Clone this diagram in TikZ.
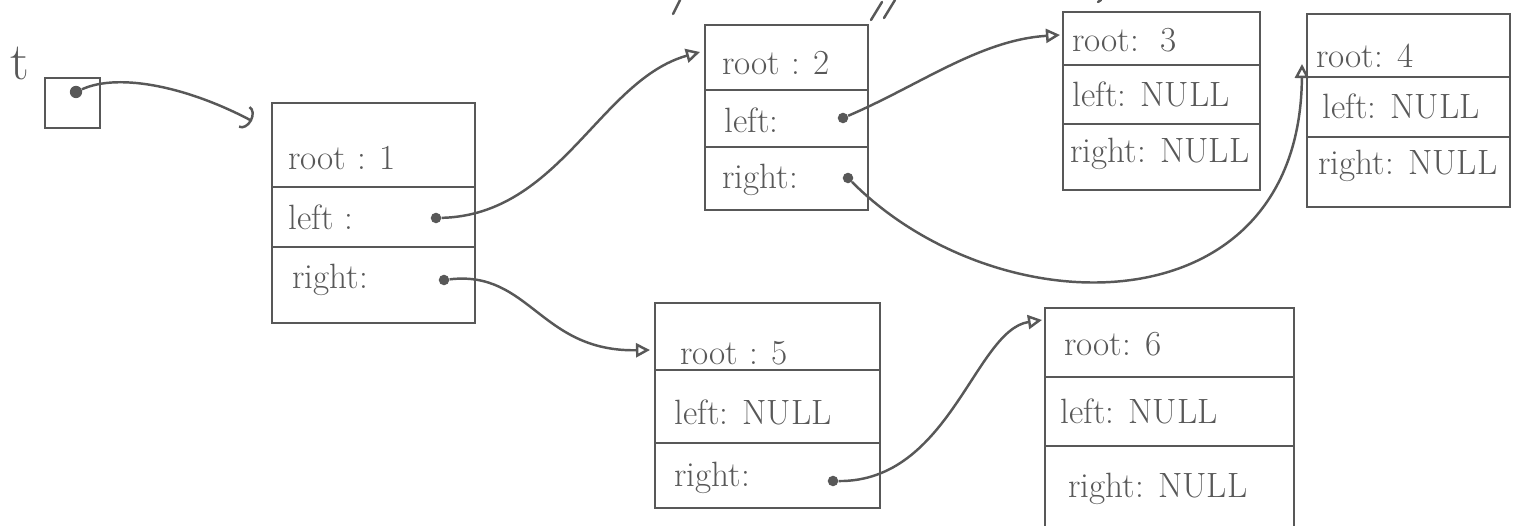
\documentclass[tikz,border=0pt]{standalone}
\usetikzlibrary{arrows.meta,fit}
\definecolor{ink}{RGB}{88,88,88}

% A tree node record: name, corners (x1,y1)-(x2,y2), two divider heights
\newcommand\recordbox[7]{%
  \node[recbox, fit={(#2,#3)(#4,#5)}] (#1) {};
  \draw[rule] (#2,#6) -- (#4,#6);
  \draw[rule] (#2,#7) -- (#4,#7);
}

\begin{document}
\begin{tikzpicture}[x=0.02cm, y=-0.02cm,
  recbox/.style={draw=ink, line width=1.6pt, inner sep=0pt},
  rule/.style={draw=ink, line width=1.6pt},
  lbl/.style={anchor=west, inner sep=0pt, text=ink, font=\fontsize{20}{24}\selectfont},
  dot/.style={circle, fill=ink, inner sep=0pt, minimum size=6pt},
  ptr/.style={draw=ink, line width=1.4pt, -{Triangle[open, length=8pt, width=8pt]}},
  stroke/.style={draw=ink, line width=1.4pt, line cap=round}]
\clip (0,0) rectangle (1514,526);

% pointer variable t
\node[lbl, font=\fontsize{30}{34}\selectfont] (tname) at (10,64) {t};
\node[recbox, fit={(45,78)(100,128)}] (tcell) {};
\node[dot, minimum size=7pt] (tptr) at (76,92) {};

% records
\recordbox{b1}{272}{103}{475}{323}{187}{247}
\recordbox{b2}{705}{25}{868}{210}{90}{147}
\recordbox{b3}{1063}{12}{1260}{190}{65}{124}
\recordbox{b4}{1307}{14}{1510}{207}{77}{137}
\recordbox{b5}{655}{303}{880}{508}{370}{443}
\recordbox{b6}{1045}{308}{1294}{545}{377}{446}

% field labels
\node[lbl] (r1) at (288,158) {root : 1};
\node[lbl] (l1) at (288,217) {left :};
\node[lbl] (g1) at (292,280) {right:};

\node[lbl] (r2) at (722,63) {root : 2};
\node[lbl] (l2) at (724,120) {left:};
\node[lbl] (g2) at (722,180) {right:};

\node[lbl] (r3) at (1072,40) {root:\ \ 3};
\node[lbl] (l3) at (1072,94) {left: NULL};
\node[lbl] (g3) at (1070,154) {right: NULL};

\node[lbl] (r4) at (1316,56) {root: 4};
\node[lbl] (l4) at (1322,106) {left: NULL};
\node[lbl] (g4) at (1318,166) {right: NULL};

\node[lbl] (r5) at (680,353) {root : 5};
\node[lbl] (l5) at (674,412) {left: NULL};
\node[lbl] (g5) at (674,478) {right:};

\node[lbl] (r6) at (1064,344) {root: 6};
\node[lbl] (l6) at (1060,411) {left: NULL};
\node[lbl] (g6) at (1068,489) {right: NULL};

% pointer fields
\node[dot] (p1l) at (436,218) {};
\node[dot] (p1r) at (444,280) {};
\node[dot] (p2l) at (843,118) {};
\node[dot] (p2r) at (848,178) {};
\node[dot] (p5r) at (833,481) {};

% arrival points on the records
\coordinate (in1) at (252,121);
\coordinate (in2) at (700,52);
\coordinate (in3) at (1060,35);
\coordinate (in4) at (1302,64);
\coordinate (in5) at (650,350);
\coordinate (in6) at (1042,320);

% links
\draw[draw=ink, line width=1.4pt, -{Arc Barb[length=5pt, width=14pt]}]
  (tptr) .. controls (120,72) and (190,88) .. (in1);
\draw[ptr] (p1l) .. controls (560,215) and (600,80) .. (in2);
\draw[ptr] (p1r) .. controls (530,270) and (540,352) .. (in5);
\draw[ptr] (p2l) .. controls (920,85) and (980,40) .. (in3);
\draw[ptr] (p2r) .. controls (1000,330) and (1300,330) .. (in4);
\draw[ptr] (p5r) .. controls (950,482) and (975,330) .. (in6);

% marks along the top edge
\draw[stroke] (673,14) -- (680,0);
\draw[stroke] (871,20) -- (882,2);
\draw[stroke] (884,18) -- (895,0);
\draw[stroke] (1098,2) -- (1101,0);
\end{tikzpicture}
\end{document}
